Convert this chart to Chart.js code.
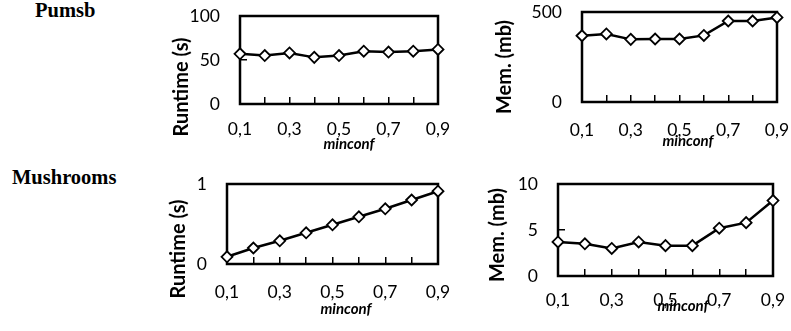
<!DOCTYPE html>
<html>
<head>
<meta charset="utf-8">
<script src="https://cdn.jsdelivr.net/npm/chart.js@4.4.0/dist/chart.umd.min.js"></script>
<style>
  body { margin:0; width:791px; height:331px; background:#fff; position:relative; overflow:hidden; }
  canvas { position:absolute; }
  .lbl { position:absolute; white-space:nowrap; color:#000; transform:translate(-50%,-50%); }
  .ytitle { font:bold 20px Lato, sans-serif; transform:translate(-50%,-50%) rotate(-90deg); }
  .xtitle { font:italic bold 15px Lato, sans-serif; }
  .dset { position:absolute; font:bold 20.5px "Liberation Serif", serif; color:#000; }
</style>
</head>
<body>
<div class="dset" style="left:35px;top:-1px">Pumsb</div>
<div class="dset" style="left:12px;top:166px">Mushrooms</div>

<canvas id="c1"></canvas>
<canvas id="c2"></canvas>
<canvas id="c3"></canvas>
<canvas id="c4"></canvas>

<div class="lbl ytitle" style="left:180px;top:87px">Runtime (s)</div>
<div class="lbl ytitle" style="left:503px;top:67px">Mem. (mb)</div>
<div class="lbl ytitle" style="left:177px;top:249px">Runtime (s)</div>
<div class="lbl ytitle" style="left:496px;top:235px">Mem. (mb)</div>

<div class="lbl xtitle" style="left:349px;top:143px">minconf</div>
<div class="lbl xtitle" style="left:688px;top:140px">minconf</div>
<div class="lbl xtitle" style="left:346px;top:308px">minconf</div>
<div class="lbl xtitle" style="left:683px;top:305px">minconf</div>

<script>
// data
var minconf = ['0,1', '0,2', '0,3', '0,4', '0,5', '0,6', '0,7', '0,8', '0,9'];

var pumsbRuntime = [57, 55, 58, 53, 55, 60, 59, 60, 62];
var pumsbMemory = [368, 378, 348, 350, 350, 370, 450, 450, 470];
var mushRuntime = [0.09, 0.2, 0.29, 0.39, 0.49, 0.59, 0.69, 0.8, 0.91];
var mushMemory = [3.7, 3.5, 3.0, 3.7, 3.3, 3.3, 5.2, 5.8, 8.2];

var pumsbRuntimeTicks = [0, 50, 100];
var pumsbMemoryTicks = [0, 500];
var mushRuntimeTicks = [0, 1];
var mushMemoryTicks = [0, 5, 10];

// plot frame round the whole chart area
var frame = {
  id: 'frame',
  beforeDatasetsDraw: function (chart) {
    var a = chart.chartArea, c = chart.ctx;
    c.save();
    c.strokeStyle = '#000';
    c.lineWidth = 2.5;
    c.strokeRect(a.left, a.top, a.right - a.left, a.bottom - a.top);
    c.restore();
  }
};

var Y_W = 70, X_H = 60, PAD_T = 14, PAD_R = 22;

function noPad(s) {
  s.paddingTop = 0; s.paddingBottom = 0;
  s.paddingLeft = 0; s.paddingRight = 0;
}

function lineChart(id, box, values, yTicks, labelGap) {
  var cv = document.getElementById(id);
  var w = box[2] - box[0] + Y_W + PAD_R;
  var h = box[3] - box[1] + X_H + PAD_T;
  cv.width = w; cv.height = h;
  cv.style.width = w + 'px'; cv.style.height = h + 'px';
  cv.style.left = (box[0] - Y_W) + 'px';
  cv.style.top = (box[1] - PAD_T) + 'px';

  var tickFont = { family: 'Lato', size: 17.5 };

  return new Chart(cv, {
    type: 'line',
    data: {
      labels: minconf,
      datasets: [{
        data: values,
        borderColor: '#000',
        borderWidth: 2.5,
        tension: 0,
        clip: false,
        pointStyle: 'rectRot',
        pointRadius: 5.5,
        pointBackgroundColor: '#fff',
        pointBorderColor: '#000',
        pointBorderWidth: 1.8
      }]
    },
    options: {
      responsive: false,
      animation: false,
      devicePixelRatio: 1,
      layout: { padding: { top: PAD_T, right: PAD_R, left: 0, bottom: 0 } },
      plugins: { legend: { display: false }, tooltip: { enabled: false } },
      scales: {
        x: {
          offset: false,
          border: { display: false },
          grid: { drawOnChartArea: false, tickLength: -7, color: '#000', lineWidth: 1.5 },
          ticks: {
            autoSkip: false, maxRotation: 0, padding: labelGap,
            color: '#000', font: tickFont,
            callback: function (v, i) { return i % 2 === 0 ? this.getLabelForValue(v) : ''; }
          },
          afterFit: function (s) { s.height = X_H; noPad(s); }
        },
        y: {
          min: yTicks[0],
          max: yTicks[yTicks.length - 1],
          border: { display: false },
          grid: { drawOnChartArea: false, tickLength: -7, color: '#000', lineWidth: 1.5 },
          ticks: { stepSize: yTicks[1] - yTicks[0], padding: 27, color: '#000', font: tickFont },
          afterFit: function (s) { s.width = Y_W; noPad(s); }
        }
      }
    },
    plugins: [frame]
  });
}

lineChart('c1', [240, 16, 438, 104], pumsbRuntime, pumsbRuntimeTicks, 22);
lineChart('c2', [582, 12, 777, 102], pumsbMemory, pumsbMemoryTicks, 25);
lineChart('c3', [227, 184, 438, 264], mushRuntime, mushRuntimeTicks, 25);
lineChart('c4', [558, 184, 773, 276], mushMemory, mushMemoryTicks, 21);
</script>
</body>
</html>
